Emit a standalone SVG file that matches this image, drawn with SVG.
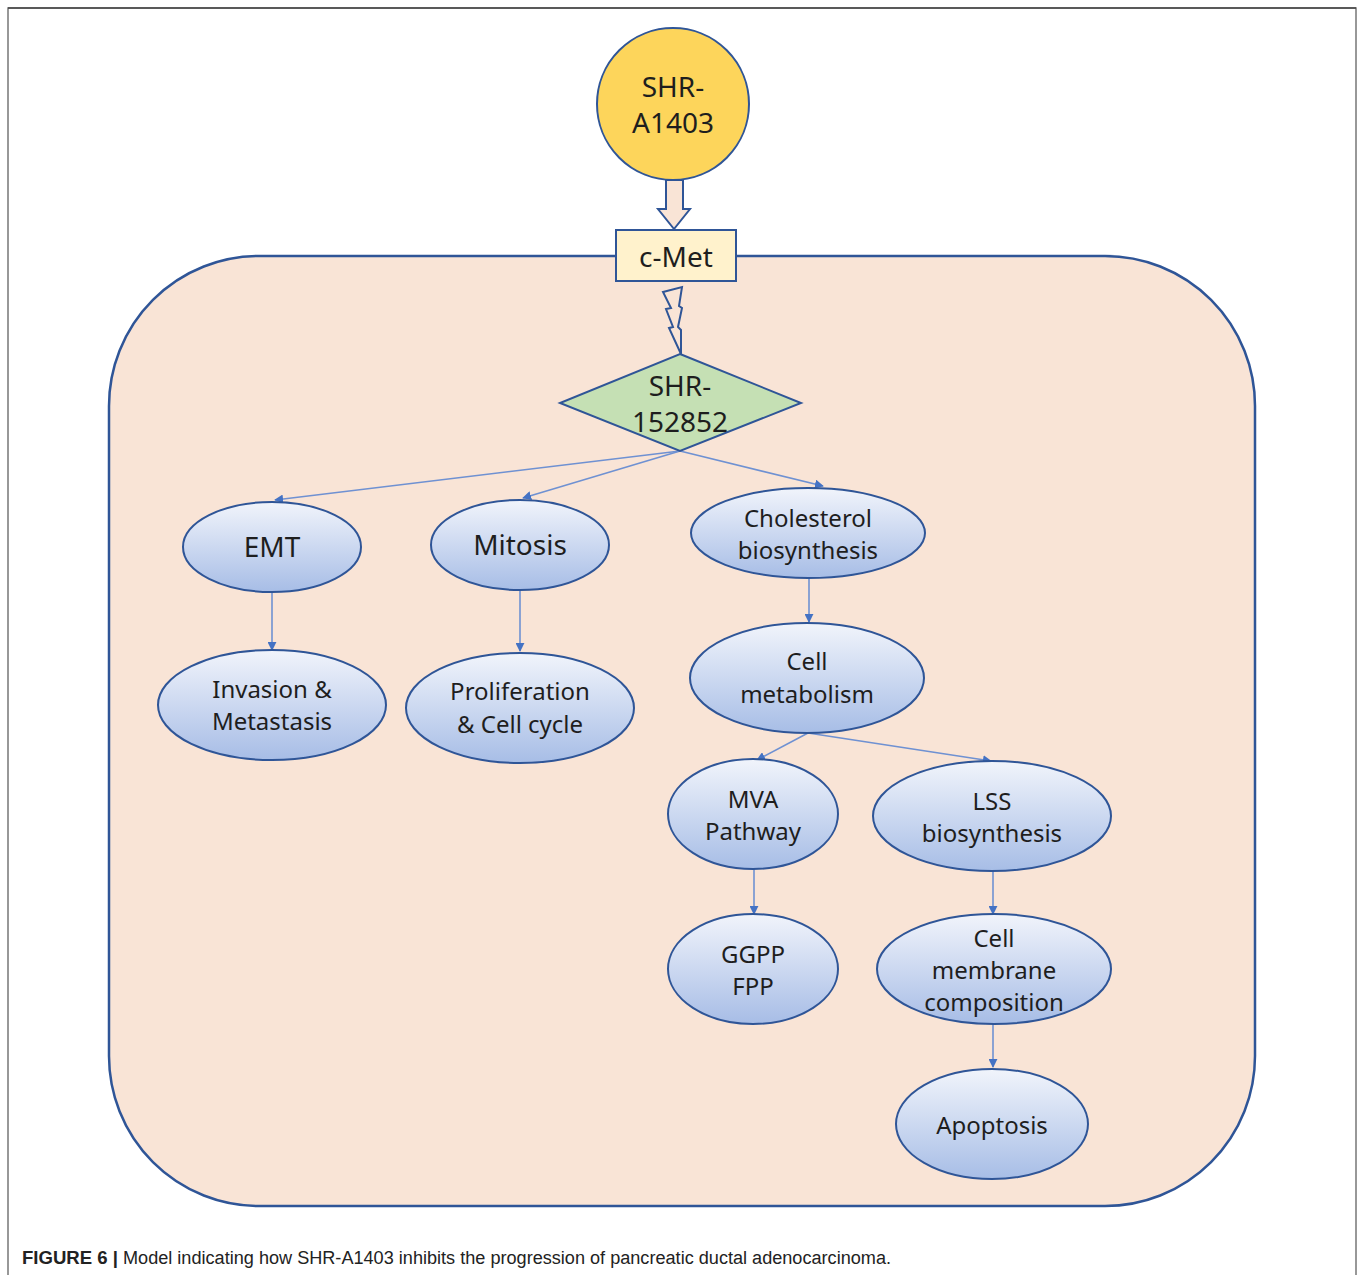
<svg xmlns="http://www.w3.org/2000/svg" width="1360" height="1275" viewBox="0 0 1360 1275">
<defs>
<linearGradient id="eg" x1="0" y1="0" x2="0" y2="1">
<stop offset="0" stop-color="#f1f4fb"/>
<stop offset="1" stop-color="#a7bde6"/>
</linearGradient>
<marker id="ah" viewBox="0 0 10 10" refX="9" refY="5" markerWidth="9" markerHeight="9" markerUnits="userSpaceOnUse" orient="auto">
<path d="M0,0 L10,5 L0,10 z" fill="#4472c4"/>
</marker>
<style>
.t{font-family:"Noto Sans","Open Sans","Liberation Sans",sans-serif;fill:#1e1e1e;text-anchor:middle}
.s28{font-size:28px}
.s24{font-size:24px}
.ell{fill:url(#eg);stroke:#2f5597;stroke-width:2}
.con{stroke:#6f91d2;stroke-width:1.6;fill:none;marker-end:url(#ah)}
</style>
</defs>
<rect x="0" y="0" width="1360" height="1275" fill="#fff"/>
<path d="M8,1275 L8,8 L1356,8 L1356,1275" fill="none" stroke="#777" stroke-width="1.5"/>
<line x1="8" y1="8" x2="1356" y2="8" stroke="#444" stroke-width="1.5"/>

<g id="cell">
<rect x="109" y="256" width="1146" height="950" rx="150" ry="150" fill="#f9e4d6" stroke="#2f5597" stroke-width="2.5"/>
</g>

<g id="connectors">
<path d="M666,180 L683,180 L683,209 L690,209 L674,229 L658,209 L666,209 Z" fill="#f9e4d6" stroke="#2f5597" stroke-width="2"/>
<polygon points="663,292 682,287 679,306 682,308 678,327 681,330 681,354 669,328 673,327 666,309 671,308" fill="#f9e4d6" stroke="#2f5597" stroke-width="2" stroke-linejoin="miter"/>
<line class="con" x1="680" y1="451" x2="275" y2="500"/>
<line class="con" x1="680" y1="451" x2="523" y2="498"/>
<line class="con" x1="680" y1="451" x2="823" y2="486"/>
<line class="con" x1="272" y1="592" x2="272" y2="650"/>
<line class="con" x1="520" y1="590" x2="520" y2="651"/>
<line class="con" x1="809" y1="578" x2="809" y2="622"/>
<line class="con" x1="808" y1="733" x2="757" y2="760"/>
<line class="con" x1="808" y1="733" x2="991" y2="761"/>
<line class="con" x1="754" y1="869" x2="754" y2="914"/>
<line class="con" x1="993" y1="872" x2="993" y2="914"/>
<line class="con" x1="993" y1="1024" x2="993" y2="1067"/>
</g>

<g id="shr-a1403">
<circle cx="673" cy="104" r="76" fill="#fdd55b" stroke="#2f5597" stroke-width="2"/>
<text class="t s28" x="673" y="97">SHR-</text>
<text class="t s28" x="673" y="133">A1403</text>
</g>

<g id="c-met">
<rect x="616" y="230" width="120" height="51" fill="#fff2cc" stroke="#2f5597" stroke-width="2"/>
<text class="t s28" x="676" y="267">c-Met</text>
</g>

<g id="shr-152852">
<polygon points="680,354 801,403 680,451 560,403" fill="#c5e0b4" stroke="#2f5597" stroke-width="2"/>
<text class="t s28" x="680" y="396">SHR-</text>
<text class="t s28" x="680" y="432">152852</text>
</g>

<g id="emt">
<ellipse class="ell" cx="272" cy="547" rx="89" ry="45"/>
<text class="t s28" x="272" y="557">EMT</text>
</g>

<g id="mitosis">
<ellipse class="ell" cx="520" cy="545" rx="89" ry="45"/>
<text class="t s28" x="520" y="555">Mitosis</text>
</g>

<g id="cholesterol">
<ellipse class="ell" cx="808" cy="533" rx="117" ry="45"/>
<text class="t s24" x="808" y="527">Cholesterol</text>
<text class="t s24" x="808" y="559">biosynthesis</text>
</g>

<g id="invasion">
<ellipse class="ell" cx="272" cy="705" rx="114" ry="55"/>
<text class="t s24" x="272" y="698">Invasion &amp;</text>
<text class="t s24" x="272" y="730">Metastasis</text>
</g>

<g id="proliferation">
<ellipse class="ell" cx="520" cy="708" rx="114" ry="55"/>
<text class="t s24" x="520" y="700">Proliferation</text>
<text class="t s24" x="520" y="733">&amp; Cell cycle</text>
</g>

<g id="cell-metabolism">
<ellipse class="ell" cx="807" cy="678" rx="117" ry="55"/>
<text class="t s24" x="807" y="670">Cell</text>
<text class="t s24" x="807" y="703">metabolism</text>
</g>

<g id="mva">
<ellipse class="ell" cx="753" cy="814" rx="85" ry="55"/>
<text class="t s24" x="753" y="808">MVA</text>
<text class="t s24" x="753" y="840">Pathway</text>
</g>

<g id="lss">
<ellipse class="ell" cx="992" cy="816" rx="119" ry="55"/>
<text class="t s24" x="992" y="810">LSS</text>
<text class="t s24" x="992" y="842">biosynthesis</text>
</g>

<g id="ggpp">
<ellipse class="ell" cx="753" cy="969" rx="85" ry="55"/>
<text class="t s24" x="753" y="963">GGPP</text>
<text class="t s24" x="753" y="995">FPP</text>
</g>

<g id="membrane">
<ellipse class="ell" cx="994" cy="969" rx="117" ry="55"/>
<text class="t s24" x="994" y="947">Cell</text>
<text class="t s24" x="994" y="979">membrane</text>
<text class="t s24" x="994" y="1011">composition</text>
</g>

<g id="apoptosis">
<ellipse class="ell" cx="992" cy="1124" rx="96" ry="55"/>
<text class="t s24" x="992" y="1134">Apoptosis</text>
</g>

<g id="caption">
<text x="22" y="1264" font-family="'Liberation Sans',Arial,sans-serif" font-size="18" font-weight="bold" fill="#222" textLength="96" lengthAdjust="spacingAndGlyphs">FIGURE 6 |</text>
<text x="123" y="1264" font-family="'Liberation Sans',Arial,sans-serif" font-size="18" fill="#222" textLength="768" lengthAdjust="spacingAndGlyphs">Model indicating how SHR-A1403 inhibits the progression of pancreatic ductal adenocarcinoma.</text>
</g>
</svg>
